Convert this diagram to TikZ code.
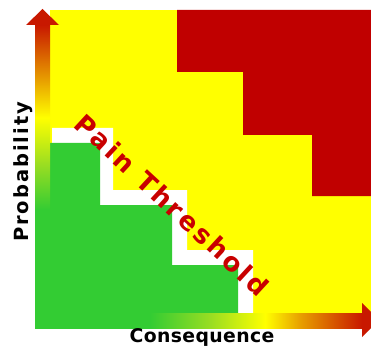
\documentclass[tikz,border=0pt]{standalone}
\usepackage{fontspec}
\usetikzlibrary{positioning}

\newfontfamily\axisfont[LetterSpace=2]{DejaVu Sans}
\newfontfamily\probfont[LetterSpace=10]{DejaVu Sans}
\newfontfamily\painfont[LetterSpace=11]{DejaVu Sans}

\definecolor{riskyellow}{HTML}{FFFF00}
\definecolor{riskred}{HTML}{C00000}
\definecolor{riskgreen}{HTML}{33CC33}
\definecolor{shaftgreen}{HTML}{99DD22}
\definecolor{shaftorange}{HTML}{E8A000}
\definecolor{shaftred}{HTML}{C81800}
\definecolor{painred}{HTML}{C80000}

% arrow shafts: green -> yellow -> red
\pgfdeclarehorizontalshading{conshade}{100bp}{color(0bp)=(riskgreen); color(42.6bp)=(riskgreen);
  color(51.8bp)=(shaftgreen); color(60.2bp)=(riskyellow); color(65.5bp)=(shaftorange);
  color(75bp)=(shaftred); color(100bp)=(shaftred)}
\pgfdeclareverticalshading{probshade}{100bp}{color(0bp)=(riskgreen); color(42.9bp)=(riskgreen);
  color(50.7bp)=(shaftgreen); color(58.9bp)=(riskyellow); color(65.4bp)=(shaftorange);
  color(75bp)=(shaftred); color(100bp)=(shaftred)}

\begin{document}
\begin{tikzpicture}[
  x=1pt, y=-1pt,
  zone/.style={draw=none},
  axislbl/.style={font=\axisfont\bfseries\fontsize{18.8}{20}\selectfont, text=black, inner sep=0pt},
  problbl/.style={font=\probfont\bfseries\fontsize{19.5}{21}\selectfont, text=black, inner sep=0pt},
  painlbl/.style={font=\painfont\bfseries\fontsize{26}{28}\selectfont, text=painred, inner sep=0pt}
]
  \useasboundingbox (0,0) rectangle (371,347);
  \clip (0,0) rectangle (371,347);

  % Zones: tolerable, intolerable, margin, acceptable
  \fill[zone, riskyellow] (50,10) rectangle (371,313);
  \fill[zone, riskred] (177,10) -- (371,10) -- (371,196) -- (312,196) -- (312,135)
    -- (243,135) -- (243,72) -- (177,72) -- cycle;
  \fill[zone, white] (52,128) -- (113,128) -- (113,190) -- (187,190) -- (187,250)
    -- (253,250) -- (253,313) -- (52,313) -- cycle;
  \fill[zone, riskgreen] (50,143) -- (100,143) -- (100,205) -- (172,205) -- (172,265)
    -- (238,265) -- (238,313) -- (50,313) -- cycle;

  % Axes
  \shade[shading=probshade] (35,25) rectangle (50,313);
  \fill[shaftred] (26,25) -- (59,25) -- (42.5,9) -- cycle;
  \shade[shading=conshade] (35,313) rectangle (362,328);
  \fill[shaftred] (362,303) -- (362,337) -- (379,320) -- cycle;

  \node[problbl, rotate=90] (prob) at (23,172) {Probability};
  \node[axislbl] (cons) at (202,337) {Consequence};

  \node[painlbl, rotate=-42.7] (pain) at (172,205) {Pain Threshold};
\end{tikzpicture}
\end{document}
